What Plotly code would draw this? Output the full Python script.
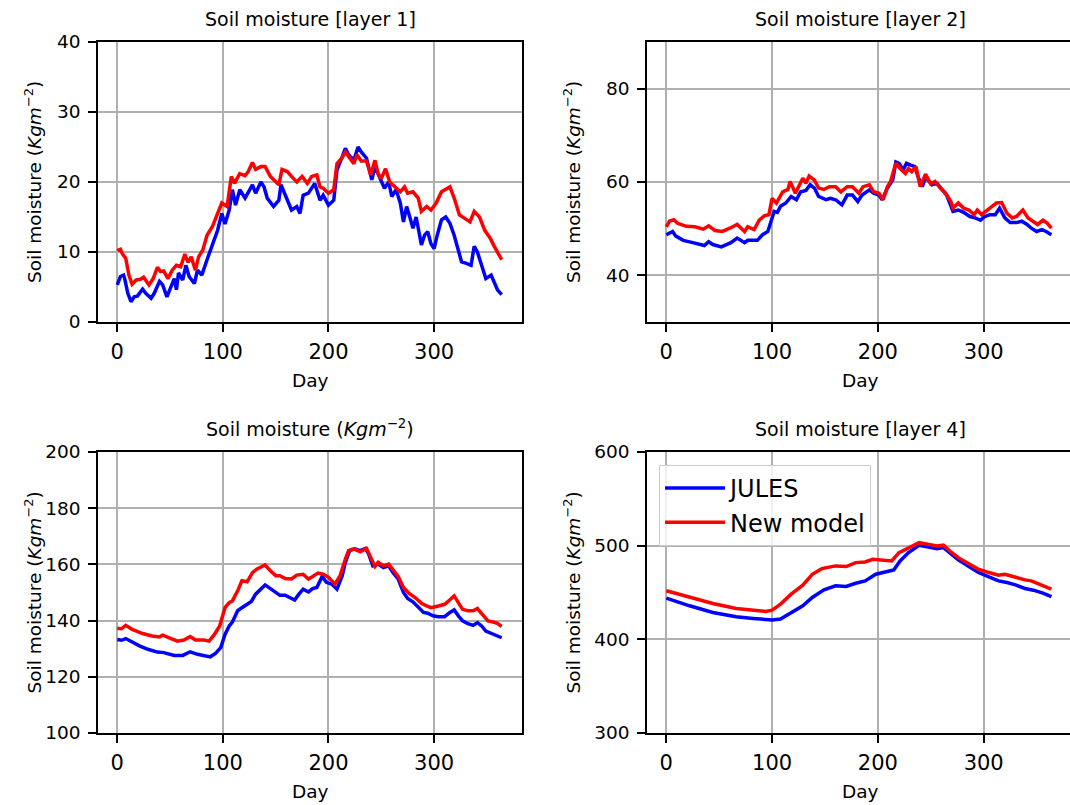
import plotly.graph_objects as go

# ---------------- data: daily soil moisture per layer ----------------
# Layer 1
L1_JULES_DAY = [0, 3, 6, 7, 10, 13, 16, 19, 24, 27, 32, 35, 40, 43, 47, 50, 54, 56, 58, 62, 65, 68, 73, 76, 80, 85,
                90, 95, 99, 102, 106, 109, 112, 116, 121, 128, 131, 136, 139, 142, 148, 153, 155, 159, 165, 170, 173,
                176, 181, 187, 192, 195, 200, 205, 208, 213, 216, 219, 224, 228, 231, 236, 241, 244, 249, 253, 257,
                260, 264, 268, 271, 274, 277, 280, 283, 288, 291, 294, 297, 300, 303, 307, 311, 315, 319, 323, 326,
                330, 335, 338, 341, 345, 349, 354, 357, 360, 364]
L1_JULES_VAL = [5.3, 6.5, 6.7, 6.2, 4.1, 2.9, 3.6, 3.7, 4.7, 4.1, 3.4, 4.1, 5.8, 5.3, 3.6, 4.6, 6.2, 4.6, 7.0, 6.0,
                8.1, 6.5, 5.5, 7.4, 6.7, 8.9, 11.2, 13.1, 15.5, 14.0, 16.0, 18.9, 16.7, 18.9, 17.7, 19.6, 18.4, 20.0,
                19.3, 17.7, 16.5, 17.4, 19.6, 18.1, 16.0, 16.5, 15.5, 18.1, 18.4, 19.8, 17.4, 18.1, 16.7, 17.4, 21.7,
                23.6, 24.8, 23.9, 23.1, 25.0, 24.3, 23.4, 20.3, 22.2, 20.3, 19.1, 20.0, 17.9, 18.9, 17.0, 14.3, 16.5,
                15.0, 13.4, 15.0, 11.0, 12.4, 12.9, 11.2, 10.5, 12.4, 14.6, 15.0, 14.1, 12.4, 10.3, 8.6, 8.4, 8.1,
                10.8, 10.0, 8.1, 6.2, 6.7, 5.5, 4.6, 3.9]
L1_NEW_DAY = [0, 3, 5, 8, 11, 14, 18, 22, 25, 30, 34, 38, 41, 44, 48, 52, 56, 60, 64, 67, 70, 74, 77, 81, 85, 90, 95,
              99, 104, 108, 111, 116, 121, 124, 128, 131, 136, 140, 145, 150, 153, 156, 161, 165, 170, 175, 180, 184,
              189, 192, 195, 200, 205, 208, 213, 216, 220, 224, 227, 231, 236, 240, 244, 247, 250, 254, 258, 263,
              268, 272, 275, 280, 285, 288, 293, 297, 302, 307, 310, 315, 319, 324, 329, 334, 338, 343, 348, 353,
              357, 364]
L1_NEW_VAL = [10.2, 10.4, 9.7, 9.1, 6.7, 5.4, 6.0, 6.1, 6.4, 5.3, 6.2, 7.8, 7.2, 7.3, 6.2, 7.4, 8.1, 7.9, 9.7, 8.5,
              9.3, 7.4, 9.3, 10.3, 12.4, 13.6, 15.5, 17.0, 16.5, 20.8, 19.8, 21.2, 20.9, 21.5, 22.8, 21.8, 22.2, 22.2,
              20.8, 20.0, 19.6, 21.8, 21.5, 20.8, 20.0, 20.8, 19.8, 20.8, 21.0, 19.3, 19.1, 18.4, 18.9, 22.6, 23.5,
              24.3, 23.5, 22.6, 23.9, 23.0, 23.0, 21.0, 23.1, 21.2, 20.5, 21.9, 20.0, 19.3, 18.6, 19.3, 18.4, 18.6,
              17.7, 15.8, 16.5, 16.0, 17.0, 18.6, 18.9, 19.3, 17.7, 15.3, 14.8, 14.3, 15.8, 15.0, 13.1, 12.0, 10.8,
              8.9]

# Layer 2
L2_JULES_DAY = [0, 3, 6, 9, 16, 25, 36, 40, 44, 52, 58, 61, 67, 74, 77, 86, 91, 96, 99, 102, 105, 108, 113, 118,
                123, 127, 132, 136, 140, 144, 151, 155, 160, 166, 171, 176, 181, 185, 192, 196, 201, 204, 209, 214,
                217, 220, 224, 227, 231, 235, 238, 242, 245, 251, 256, 260, 265, 271, 276, 281, 287, 292, 297, 301,
                306, 311, 315, 320, 325, 331, 336, 341, 345, 350, 355, 359, 364]
L2_JULES_VAL = [48.7, 49.1, 49.4, 48.4, 47.5, 47.0, 46.4, 47.2, 46.6, 46.1, 46.6, 47.0, 48.0, 47.0, 47.5, 47.5, 48.7,
                49.4, 51.6, 53.7, 53.5, 54.8, 55.5, 56.9, 56.2, 57.9, 58.2, 59.4, 58.7, 56.9, 56.2, 56.5, 56.2, 55.1,
                57.2, 57.2, 55.8, 57.2, 58.3, 57.6, 57.2, 56.2, 58.7, 60.4, 64.3, 64.0, 62.6, 64.0, 63.6, 63.3, 61.1,
                59.0, 61.1, 59.4, 59.7, 58.7, 57.2, 53.7, 54.0, 53.5, 52.6, 52.3, 51.8, 52.6, 53.0, 53.0, 54.4, 52.3,
                51.3, 51.3, 51.6, 50.9, 50.1, 49.4, 49.8, 49.4, 48.7]
L2_NEW_DAY = [0, 3, 7, 11, 19, 27, 35, 40, 46, 53, 60, 67, 74, 77, 83, 88, 93, 97, 100, 104, 110, 115, 117, 122, 129,
              132, 135, 140, 144, 149, 154, 160, 165, 171, 176, 182, 186, 192, 196, 201, 205, 209, 212, 217, 221, 226,
              229, 232, 236, 240, 245, 250, 254, 259, 264, 269, 271, 276, 281, 286, 291, 294, 298, 303, 308, 312, 317,
              322, 327, 331, 337, 342, 347, 351, 356, 360, 364]
L2_NEW_VAL = [50.4, 51.6, 51.9, 51.1, 50.5, 50.4, 49.9, 50.6, 49.6, 49.4, 50.1, 50.9, 49.4, 50.4, 49.8, 51.9, 52.8,
              53.0, 56.5, 55.5, 57.9, 58.4, 60.1, 57.6, 60.8, 59.7, 61.3, 60.4, 58.7, 58.4, 59.0, 59.0, 57.9, 59.0,
              59.0, 57.6, 59.0, 59.4, 57.9, 57.6, 56.2, 59.0, 60.1, 64.0, 62.9, 61.8, 62.9, 62.2, 63.3, 59.0, 61.7,
              59.6, 60.1, 58.7, 57.6, 55.8, 54.4, 55.5, 54.4, 54.0, 53.0, 54.0, 53.0, 54.0, 54.8, 55.5, 55.6, 53.3,
              52.3, 52.6, 54.0, 52.3, 51.6, 50.9, 51.8, 51.2, 50.1]

# Layer 3
L3_JULES_DAY = [0, 4, 8, 13, 21, 29, 38, 44, 54, 62, 69, 76, 82, 88, 93, 98, 102, 106, 109, 114, 118, 123, 127, 131,
                136, 140, 145, 150, 154, 159, 164, 168, 172, 176, 181, 185, 189, 194, 198, 203, 208, 213, 216, 220,
                225, 230, 235, 238, 242, 247, 252, 257, 261, 266, 271, 275, 280, 285, 290, 294, 299, 304, 310, 315,
                319, 323, 327, 332, 337, 341, 345, 349, 354, 359, 364]
L3_JULES_VAL = [133.3, 133.0, 133.6, 132.5, 131.0, 129.8, 128.8, 128.6, 127.6, 127.6, 128.9, 128.0, 127.6, 127.1,
                128.3, 130.4, 135.1, 138.1, 139.5, 143.5, 144.6, 145.8, 146.8, 149.4, 151.4, 152.7, 151.4, 150.0,
                149.0, 149.0, 148.2, 147.3, 149.4, 151.2, 150.2, 151.4, 151.8, 155.7, 153.6, 153.0, 151.2, 156.0,
                160.7, 164.9, 165.5, 164.9, 165.7, 163.7, 159.5, 160.1, 158.9, 159.5, 157.1, 154.8, 150.0, 147.9,
                146.7, 144.6, 142.9, 142.6, 141.7, 141.4, 141.4, 142.9, 143.8, 141.7, 139.9, 138.9, 138.3, 139.3,
                138.1, 136.3, 135.5, 134.8, 133.9]
L3_NEW_DAY = [0, 4, 8, 14, 24, 33, 40, 43, 51, 57, 63, 69, 74, 82, 87, 92, 97, 102, 106, 109, 114, 118, 123, 128, 132,
              140, 145, 150, 154, 159, 165, 170, 176, 181, 185, 190, 195, 200, 206, 211, 216, 219, 224, 230, 236, 240,
              244, 247, 252, 257, 261, 266, 271, 276, 282, 288, 293, 297, 304, 310, 315, 319, 323, 327, 332, 337, 341,
              345, 351, 356, 360, 364]
L3_NEW_VAL = [137.3, 137.1, 138.3, 136.9, 135.4, 134.5, 134.2, 134.8, 133.6, 132.7, 133.1, 134.3, 133.1, 133.1, 132.7,
              135.1, 138.1, 144.6, 146.4, 147.0, 150.6, 154.2, 153.8, 157.1, 158.3, 159.8, 157.7, 156.0, 156.0, 155.0,
              154.8, 156.2, 156.5, 154.8, 155.7, 156.9, 156.5, 155.4, 153.0, 156.0, 161.9, 164.9, 165.5, 164.5, 165.7,
              162.5, 159.3, 160.7, 159.5, 160.1, 158.1, 155.7, 151.8, 149.8, 148.2, 146.2, 145.2, 144.6, 145.2, 145.8,
              147.4, 148.8, 146.4, 144.0, 143.5, 143.5, 144.3, 142.6, 139.9, 139.5, 139.0, 137.9]

# Layer 4
L4_JULES_DAY = [0, 22, 44, 66, 82, 94, 100, 108, 118, 129, 138, 149, 160, 170, 179, 188, 198, 207, 215, 221, 229, 239,
                248, 256, 262, 268, 276, 286, 295, 305, 314, 322, 330, 339, 347, 356, 364]
L4_JULES_VAL = [444.0, 435.8, 428.7, 424.1, 422.3, 420.6, 420.6, 421.6, 428.7, 435.8, 444.7, 452.8, 457.1, 456.4,
                459.9, 462.4, 469.5, 472.0, 474.1, 483.7, 492.6, 500.4, 498.6, 496.8, 497.9, 491.8, 484.8, 477.7,
                471.3, 466.7, 462.4, 460.6, 458.2, 454.3, 452.5, 449.3, 445.7]
L4_NEW_DAY = [0, 22, 44, 66, 82, 94, 100, 108, 118, 129, 138, 147, 160, 170, 179, 188, 195, 204, 213, 220, 229, 239,
              248, 256, 262, 268, 276, 286, 295, 305, 314, 320, 330, 339, 345, 355, 364]
L4_NEW_VAL = [451.8, 444.7, 438.3, 433.0, 431.2, 429.8, 431.2, 437.6, 448.2, 457.8, 469.5, 475.5, 478.4, 477.7, 481.9,
              482.6, 485.5, 484.8, 483.7, 492.6, 497.9, 503.2, 501.4, 499.6, 500.7, 494.3, 487.2, 480.1, 474.8, 471.3,
              468.4, 469.5, 466.0, 463.5, 462.4, 458.2, 453.5]

SERIES_NAMES = ["JULES", "New model"]
TITLES = ["Soil moisture [layer 1]", "Soil moisture [layer 2]",
          "Soil moisture (<i>Kgm</i><sup>−2</sup>)", "Soil moisture [layer 4]"]
Y_LABEL = "Soil moisture (<i>Kgm</i><sup>−2</sup>)"
X_LABEL = "Day"
X_TICKS = [0, 100, 200, 300]
Y_TICKS = [[0, 10, 20, 30, 40], [40, 60, 80], [100, 120, 140, 160, 180, 200], [300, 400, 500, 600]]
Y_RANGES = [[0, 40], [30, 90], [100, 200], [300, 600]]

# ---------------- layout geometry ----------------
W, H = 1070, 805
FONT = "DejaVu Sans"
BLUE, RED = "#0000ff", "#ff0000"
GRID = "#b0b0b0"

panels = [
    # (x domain px, y domain px (top, bottom), x range)
    ((98, 522), (42, 322), [-18.25, 383.25]),
    ((647, 1070), (42, 322), [-18.25, 381.6]),
    ((98, 522), (452, 733), [-18.25, 383.25]),
    ((647, 1070), (452, 733), [-18.25, 381.6]),
]
data = [
    (L1_JULES_DAY, L1_JULES_VAL, L1_NEW_DAY, L1_NEW_VAL),
    (L2_JULES_DAY, L2_JULES_VAL, L2_NEW_DAY, L2_NEW_VAL),
    (L3_JULES_DAY, L3_JULES_VAL, L3_NEW_DAY, L3_NEW_VAL),
    (L4_JULES_DAY, L4_JULES_VAL, L4_NEW_DAY, L4_NEW_VAL),
]

fig = go.Figure()
annotations = []
layout_axes = {}

for i, ((x0, x1), (ytop, ybot), xr) in enumerate(panels):
    n = "" if i == 0 else str(i + 1)
    xa, ya = "x" + n, "y" + n
    xd = [x0 / W, x1 / W]
    yd = [1 - ybot / H, 1 - ytop / H]
    jd, jv, nd, nv = data[i]
    last = i == 3
    fig.add_trace(go.Scatter(x=jd, y=jv, mode="lines", name=SERIES_NAMES[0], xaxis=xa, yaxis=ya,
                             line=dict(color=BLUE, width=3.5), showlegend=last))
    fig.add_trace(go.Scatter(x=nd, y=nv, mode="lines", name=SERIES_NAMES[1], xaxis=xa, yaxis=ya,
                             line=dict(color=RED, width=3.5), showlegend=last))
    right_panel = i in (1, 3)
    layout_axes["xaxis" + n] = dict(
        domain=xd, anchor=ya, range=xr, tickvals=X_TICKS, showgrid=True, gridcolor=GRID, gridwidth=1.6,
        zeroline=False, showline=True, linecolor="black", linewidth=1.5, mirror=True, automargin=False,
        ticks="outside", ticklen=8, tickwidth=1.5, tickcolor="black",
        tickfont=dict(family=FONT, size=21, color="black"), ticklabelstandoff=2,
    )
    layout_axes["yaxis" + n] = dict(
        domain=yd, anchor=xa, range=Y_RANGES[i], tickvals=Y_TICKS[i], showgrid=True, gridcolor=GRID,
        gridwidth=1.6, zeroline=False, showline=True, linecolor="black", linewidth=1.5, automargin=False,
        mirror=not right_panel, ticks="outside", ticklen=8, tickwidth=1.5, tickcolor="black",
        tickfont=dict(family=FONT, size=18.5, color="black"), ticklabelstandoff=4,
    )
    cx = (x0 + (x1 if not right_panel else 1074)) / 2 / W
    annotations.append(dict(text=TITLES[i], x=cx, y=1 - ytop / H, xref="paper", yref="paper",
                            xanchor="center", yanchor="bottom", yshift=10, showarrow=False,
                            font=dict(family=FONT, size=19, color="black")))
    annotations.append(dict(text=X_LABEL, x=cx, y=1 - ybot / H, xref="paper", yref="paper",
                            xanchor="center", yanchor="top", yshift=-46, showarrow=False,
                            font=dict(family=FONT, size=18.5, color="black")))
    ylx = 33 if not right_panel else 572
    annotations.append(dict(text=Y_LABEL, x=ylx / W, y=1 - (ytop + ybot) / 2 / H, xref="paper", yref="paper",
                            xanchor="center", yanchor="middle", textangle=-90, showarrow=False,
                            font=dict(family=FONT, size=18.5, color="black")))

fig.update_layout(
    width=W, height=H, autosize=False,
    margin=dict(l=0, r=0, t=0, b=0, pad=0, autoexpand=False),
    paper_bgcolor="white", plot_bgcolor="white",
    font=dict(family=FONT, color="black"),
    annotations=annotations,
    legend=dict(x=659 / W, y=1 - 465 / H, xanchor="left", yanchor="top",
                bgcolor="rgba(255,255,255,0.8)", bordercolor="#cccccc", borderwidth=1,
                font=dict(family=FONT, size=24, color="black"), tracegroupgap=0, itemwidth=60),
    **layout_axes,
)

fig.write_html("out.html")
